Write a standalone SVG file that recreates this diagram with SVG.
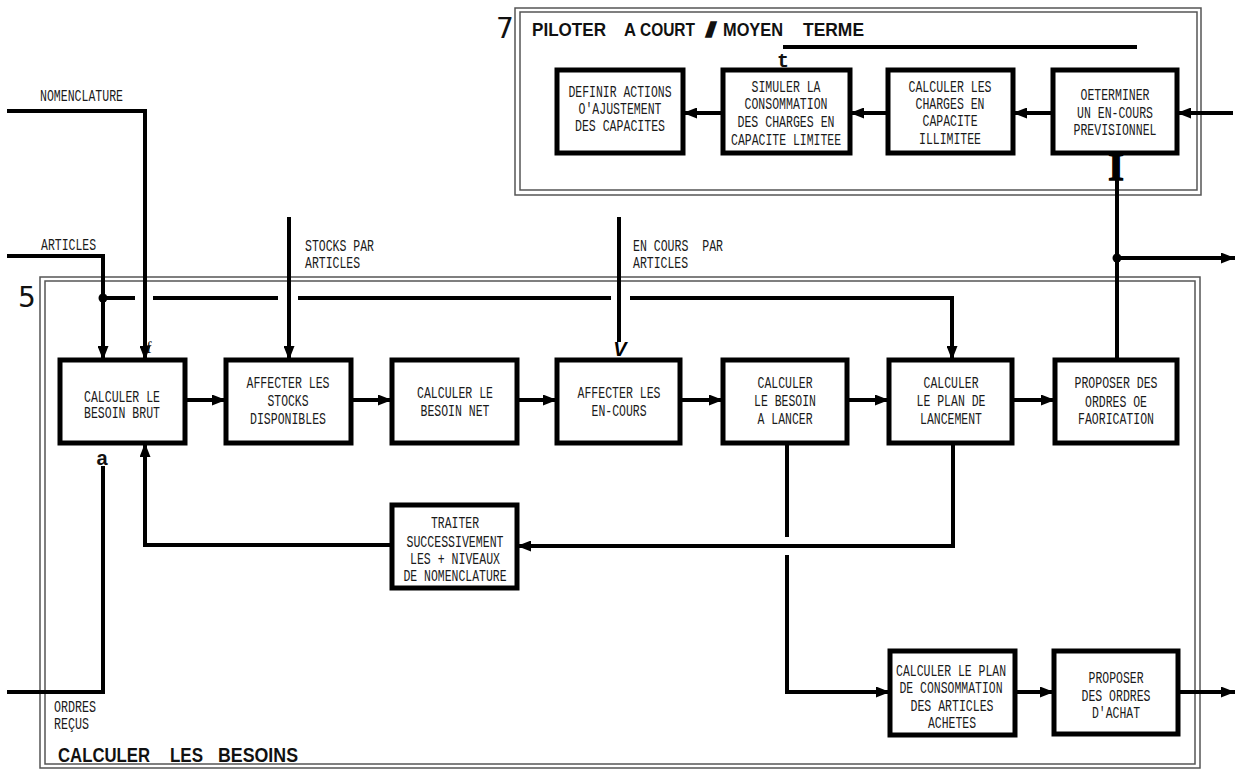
<svg xmlns="http://www.w3.org/2000/svg" width="1244" height="774" viewBox="0 0 1244 774">
<style>
.bx{fill:#fff;stroke:#000;stroke-width:5}
.t{font-family:"Liberation Mono","Courier New",monospace;font-size:16px;fill:#1a1a1a;text-anchor:middle}
.l{font-family:"Liberation Mono","Courier New",monospace;font-size:16px;fill:#1a1a1a}
.c{fill:none;stroke:#000;stroke-width:4}
.fr{fill:none;stroke:#555;stroke-width:1.5}
.h{font-family:"Liberation Sans",Arial,sans-serif;font-weight:bold;fill:#111}
.n{font-family:"DejaVu Sans",sans-serif;font-size:28px;fill:#111}
</style>
<defs>
<marker id="ar" viewBox="0 0 14 11" refX="14" refY="5.5" markerWidth="14" markerHeight="11" markerUnits="userSpaceOnUse" orient="auto">
<path d="M0,0 L14,5.5 L0,11 z" fill="#000"/>
</marker>
</defs>
<rect width="1244" height="774" fill="#fff"/>

<g id="frame7">
<rect class="fr" x="515" y="8" width="686" height="187"/>
<rect class="fr" x="520" y="12" width="677" height="178"/>
<text class="n" x="496" y="38">7</text>
<text class="h" font-size="19" y="36"><tspan x="532" textLength="74" lengthAdjust="spacingAndGlyphs">PILOTER</tspan><tspan x="624" textLength="12" lengthAdjust="spacingAndGlyphs">A</tspan><tspan x="640" textLength="55" lengthAdjust="spacingAndGlyphs">COURT</tspan></text>
<text class="h" font-size="21" x="706" y="37" stroke="#111" stroke-width="1.5" textLength="10" lengthAdjust="spacingAndGlyphs">/</text>
<text class="h" font-size="19" y="36"><tspan x="723" textLength="60" lengthAdjust="spacingAndGlyphs">MOYEN</tspan><tspan x="803" textLength="61" lengthAdjust="spacingAndGlyphs">TERME</tspan></text>
<line x1="783" y1="47" x2="1137" y2="47" stroke="#000" stroke-width="4"/>
<text x="783" y="67" font-family="Liberation Mono,monospace" font-weight="bold" font-size="20" text-anchor="middle" fill="#111">t</text>
</g>

<g id="frame5">
<rect class="fr" x="40" y="277" width="1160" height="491"/>
<rect class="fr" x="45" y="281" width="1150" height="483"/>
<text class="n" x="18" y="307">5</text>
<text class="h" font-size="20" y="762"><tspan x="58" textLength="92" lengthAdjust="spacingAndGlyphs">CALCULER</tspan><tspan x="170" textLength="33" lengthAdjust="spacingAndGlyphs">LES</tspan><tspan x="218" textLength="80" lengthAdjust="spacingAndGlyphs">BESOINS</tspan></text>
</g>

<g id="connectors">
<line class="c" x1="1233" y1="113" x2="1177" y2="113" marker-end="url(#ar)"/>
<line class="c" x1="1053" y1="113" x2="1013" y2="113" marker-end="url(#ar)"/>
<line class="c" x1="888" y1="113" x2="850" y2="113" marker-end="url(#ar)"/>
<line class="c" x1="723" y1="113" x2="683" y2="113" marker-end="url(#ar)"/>
<polyline class="c" points="7,111 145,111 145,360" marker-end="url(#ar)"/>
<polyline class="c" points="7,256 103,256 103,360" marker-end="url(#ar)"/>
<circle cx="103" cy="298" r="4.5" fill="#000"/>
<line class="c" x1="103" y1="298" x2="135" y2="298"/>
<line class="c" x1="153" y1="298" x2="278" y2="298"/>
<line class="c" x1="298" y1="298" x2="611" y2="298"/>
<polyline class="c" points="630,298 952,298 952,360" marker-end="url(#ar)"/>
<line class="c" x1="289" y1="217" x2="289" y2="360" marker-end="url(#ar)"/>
<line class="c" x1="619" y1="217" x2="619" y2="342"/>
<line class="c" x1="185" y1="400" x2="226" y2="400" marker-end="url(#ar)"/>
<line class="c" x1="351" y1="400" x2="392" y2="400" marker-end="url(#ar)"/>
<line class="c" x1="517" y1="400" x2="557" y2="400" marker-end="url(#ar)"/>
<line class="c" x1="680" y1="400" x2="723" y2="400" marker-end="url(#ar)"/>
<line class="c" x1="847" y1="400" x2="889" y2="400" marker-end="url(#ar)"/>
<line class="c" x1="1012" y1="400" x2="1055" y2="400" marker-end="url(#ar)"/>
<line class="c" x1="1117" y1="360" x2="1117" y2="178"/>
<circle cx="1117" cy="258" r="4.5" fill="#000"/>
<line class="c" x1="1117" y1="258" x2="1235" y2="258" marker-end="url(#ar)"/>
<polyline class="c" points="953,443 953,546 517,546" marker-end="url(#ar)"/>
<line class="c" x1="787" y1="443" x2="787" y2="537"/>
<polyline class="c" points="787,555 787,692 890,692" marker-end="url(#ar)"/>
<polyline class="c" points="392,545 145,545 145,443" marker-end="url(#ar)"/>
<polyline class="c" points="7,692 103,692 103,466"/>
<line class="c" x1="1015" y1="692" x2="1054" y2="692" marker-end="url(#ar)"/>
<line class="c" x1="1178" y1="692" x2="1235" y2="692" marker-end="url(#ar)"/>
<text x="1116" y="180" font-family="Liberation Serif,serif" font-weight="bold" font-size="40" text-anchor="middle" fill="#000" stroke="#000" stroke-width="1.5">I</text>
<text x="620" y="356" font-family="Liberation Sans,sans-serif" font-weight="bold" font-style="italic" font-size="20" text-anchor="middle" fill="#000">V</text>
<text x="149" y="353" font-family="Liberation Serif,serif" font-size="16" text-anchor="middle" fill="#111">f</text>
<text x="102" y="465" font-family="Liberation Sans,sans-serif" font-weight="bold" font-size="20" text-anchor="middle" fill="#111">a</text>
</g>

<g id="labels">
<text class="l" x="40" y="101" textLength="83" lengthAdjust="spacingAndGlyphs">NOMENCLATURE</text>
<text class="l" x="41" y="250" textLength="55" lengthAdjust="spacingAndGlyphs">ARTICLES</text>
<text class="l" x="305" y="251" textLength="69" lengthAdjust="spacingAndGlyphs">STOCKS PAR</text>
<text class="l" x="305" y="268" textLength="55" lengthAdjust="spacingAndGlyphs">ARTICLES</text>
<text class="l" x="633" y="251" textLength="90" lengthAdjust="spacingAndGlyphs" xml:space="preserve">EN COURS  PAR</text>
<text class="l" x="633" y="268" textLength="55" lengthAdjust="spacingAndGlyphs">ARTICLES</text>
<text class="l" x="54" y="712" textLength="42" lengthAdjust="spacingAndGlyphs">ORDRES</text>
<text class="l" x="54" y="729" textLength="35" lengthAdjust="spacingAndGlyphs">REÇUS</text>
</g>

<g id="n-definir">
<rect class="bx" x="557" y="70" width="126" height="83"/>
<text class="t" x="620" y="97" textLength="103" lengthAdjust="spacingAndGlyphs">DEFINIR ACTIONS</text>
<text class="t" x="620" y="114" textLength="83" lengthAdjust="spacingAndGlyphs">O'AJUSTEMENT</text>
<text class="t" x="620" y="131" textLength="90" lengthAdjust="spacingAndGlyphs">DES CAPACITES</text>
</g>
<g id="n-simuler">
<rect class="bx" x="723" y="70" width="127" height="83"/>
<text class="t" x="786" y="92" textLength="69" lengthAdjust="spacingAndGlyphs">SIMULER LA</text>
<text class="t" x="786" y="109" textLength="83" lengthAdjust="spacingAndGlyphs">CONSOMMATION</text>
<text class="t" x="786" y="127" textLength="97" lengthAdjust="spacingAndGlyphs">DES CHARGES EN</text>
<text class="t" x="786" y="145" textLength="110" lengthAdjust="spacingAndGlyphs">CAPACITE LIMITEE</text>
</g>
<g id="n-charges">
<rect class="bx" x="888" y="70" width="125" height="83"/>
<text class="t" x="950" y="92" textLength="83" lengthAdjust="spacingAndGlyphs">CALCULER LES</text>
<text class="t" x="950" y="109" textLength="69" lengthAdjust="spacingAndGlyphs">CHARGES EN</text>
<text class="t" x="950" y="126" textLength="55" lengthAdjust="spacingAndGlyphs">CAPACITE</text>
<text class="t" x="950" y="144" textLength="62" lengthAdjust="spacingAndGlyphs">ILLIMITEE</text>
</g>
<g id="n-encours-prev">
<rect class="bx" x="1053" y="70" width="124" height="83"/>
<text class="t" x="1115" y="100" textLength="69" lengthAdjust="spacingAndGlyphs">OETERMINER</text>
<text class="t" x="1115" y="118" textLength="76" lengthAdjust="spacingAndGlyphs">UN EN-COURS</text>
<text class="t" x="1115" y="135" textLength="83" lengthAdjust="spacingAndGlyphs">PREVISIONNEL</text>
</g>

<g id="n-brut">
<rect class="bx" x="60" y="360" width="125" height="83"/>
<text class="t" x="122" y="402" textLength="76" lengthAdjust="spacingAndGlyphs">CALCULER LE</text>
<text class="t" x="122" y="418" textLength="76" lengthAdjust="spacingAndGlyphs">BESOIN BRUT</text>
</g>
<g id="n-stocks">
<rect class="bx" x="226" y="360" width="125" height="83"/>
<text class="t" x="288" y="388" textLength="83" lengthAdjust="spacingAndGlyphs">AFFECTER LES</text>
<text class="t" x="288" y="406" textLength="41" lengthAdjust="spacingAndGlyphs">STOCKS</text>
<text class="t" x="288" y="424" textLength="76" lengthAdjust="spacingAndGlyphs">DISPONIBLES</text>
</g>
<g id="n-net">
<rect class="bx" x="392" y="360" width="125" height="83"/>
<text class="t" x="455" y="398" textLength="76" lengthAdjust="spacingAndGlyphs">CALCULER LE</text>
<text class="t" x="455" y="416" textLength="69" lengthAdjust="spacingAndGlyphs">BESOIN NET</text>
</g>
<g id="n-encours">
<rect class="bx" x="557" y="360" width="123" height="83"/>
<text class="t" x="619" y="398" textLength="83" lengthAdjust="spacingAndGlyphs">AFFECTER LES</text>
<text class="t" x="619" y="416" textLength="55" lengthAdjust="spacingAndGlyphs">EN-COURS</text>
</g>
<g id="n-lancer">
<rect class="bx" x="723" y="360" width="124" height="83"/>
<text class="t" x="785" y="388" textLength="55" lengthAdjust="spacingAndGlyphs">CALCULER</text>
<text class="t" x="785" y="406" textLength="62" lengthAdjust="spacingAndGlyphs">LE BESOIN</text>
<text class="t" x="785" y="424" textLength="55" lengthAdjust="spacingAndGlyphs">A LANCER</text>
</g>
<g id="n-plan">
<rect class="bx" x="889" y="360" width="123" height="83"/>
<text class="t" x="951" y="388" textLength="55" lengthAdjust="spacingAndGlyphs">CALCULER</text>
<text class="t" x="951" y="406" textLength="69" lengthAdjust="spacingAndGlyphs">LE PLAN DE</text>
<text class="t" x="951" y="424" textLength="62" lengthAdjust="spacingAndGlyphs">LANCEMENT</text>
</g>
<g id="n-fabrication">
<rect class="bx" x="1055" y="360" width="122" height="83"/>
<text class="t" x="1116" y="388" textLength="83" lengthAdjust="spacingAndGlyphs">PROPOSER DES</text>
<text class="t" x="1116" y="407" textLength="62" lengthAdjust="spacingAndGlyphs">ORDRES OE</text>
<text class="t" x="1116" y="424" textLength="76" lengthAdjust="spacingAndGlyphs">FAORICATION</text>
</g>
<g id="n-traiter">
<rect class="bx" x="392" y="505" width="125" height="83"/>
<text class="t" x="455" y="528" textLength="48" lengthAdjust="spacingAndGlyphs">TRAITER</text>
<text class="t" x="455" y="547" textLength="97" lengthAdjust="spacingAndGlyphs">SUCCESSIVEMENT</text>
<text class="t" x="455" y="564" textLength="90" lengthAdjust="spacingAndGlyphs">LES + NIVEAUX</text>
<text class="t" x="455" y="581" textLength="103" lengthAdjust="spacingAndGlyphs">DE NOMENCLATURE</text>
</g>
<g id="n-consommation">
<rect class="bx" x="890" y="651" width="125" height="84"/>
<text class="t" x="951" y="676" textLength="110" lengthAdjust="spacingAndGlyphs">CALCULER LE PLAN</text>
<text class="t" x="951" y="693" textLength="103" lengthAdjust="spacingAndGlyphs">DE CONSOMMATION</text>
<text class="t" x="952" y="711" textLength="83" lengthAdjust="spacingAndGlyphs">DES ARTICLES</text>
<text class="t" x="952" y="728" textLength="48" lengthAdjust="spacingAndGlyphs">ACHETES</text>
</g>
<g id="n-achat">
<rect class="bx" x="1054" y="651" width="124" height="83"/>
<text class="t" x="1116" y="683" textLength="55" lengthAdjust="spacingAndGlyphs">PROPOSER</text>
<text class="t" x="1116" y="701" textLength="69" lengthAdjust="spacingAndGlyphs">DES ORDRES</text>
<text class="t" x="1116" y="718" textLength="48" lengthAdjust="spacingAndGlyphs">D'ACHAT</text>
</g>
</svg>
